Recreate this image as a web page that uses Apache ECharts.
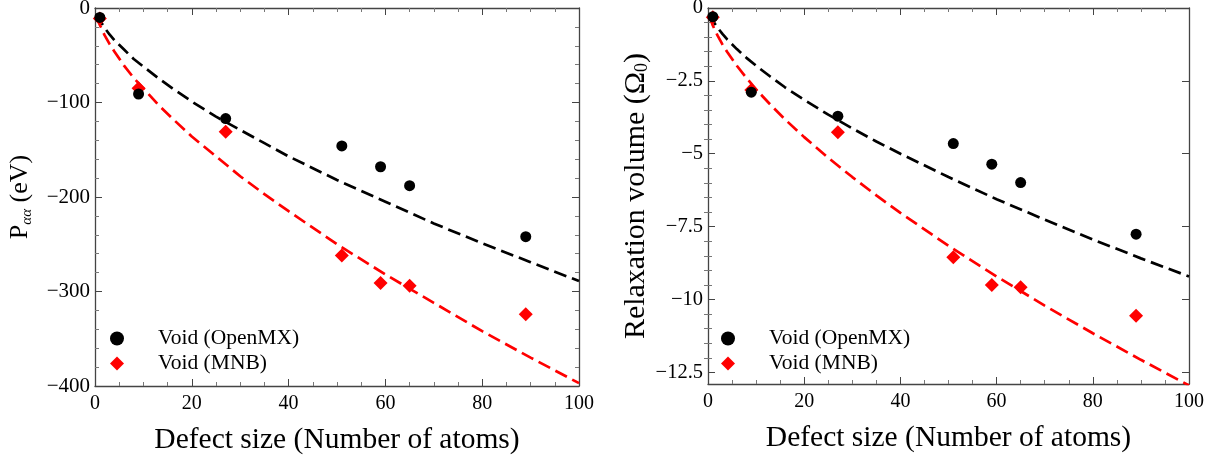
<!DOCTYPE html>
<html>
<head>
<meta charset="utf-8">
<script src="https://cdn.jsdelivr.net/npm/echarts@6/dist/echarts.min.js"></script>
<style>
html,body{margin:0;padding:0;background:#fff;}
#chart{width:1230px;height:464px;}
</style>
</head>
<body>
<div id="chart"></div>
<script>
// ---- data ----
const sizes = [1, 9, 27, 51, 59, 65, 89];
const pOpenMX = [-10, -91, -117, -146, -168, -188, -242];
const pMNB = [-11, -85, -131, -262, -291, -294, -324];
const vOpenMX = [-0.30, -2.89, -3.71, -4.65, -5.36, -5.99, -7.76];
const vMNB = [-0.32, -2.81, -4.26, -8.55, -9.50, -9.58, -10.56];

const fitX = [0.3, 1, 2, 3, 4, 6, 8, 10, 13, 16, 20, 25, 30, 35, 40, 50, 60, 70, 80, 90, 100];
const pFitOpenMX = [-6, -13, -21, -28, -34, -44, -54, -62, -74, -85, -99, -115, -129, -143, -157, -182, -205, -228, -249, -269, -289];
const pFitMNB = [-8, -18, -29, -38, -46, -61, -74, -85, -102, -117, -136, -157, -178, -197, -215, -250, -282, -312, -342, -370, -397];
const vFitOpenMX = [-0.19, -0.43, -0.68, -0.89, -1.08, -1.41, -1.71, -1.98, -2.36, -2.72, -3.15, -3.66, -4.13, -4.58, -5.00, -5.80, -6.56, -7.26, -7.94, -8.59, -9.21];
const vFitMNB = [-0.27, -0.60, -0.95, -1.25, -1.51, -1.98, -2.40, -2.79, -3.32, -3.82, -4.43, -5.14, -5.80, -6.43, -7.03, -8.16, -9.21, -10.21, -11.16, -12.07, -12.95];

const xTicks = [0, 20, 40, 60, 80, 100];
const pTicks = [0, -100, -200, -300, -400];
const vTicks = [0, -2.5, -5, -7.5, -10, -12.5];
const vMinorTicks = [-0.5, -1, -1.5, -2, -3, -3.5, -4, -4.5, -5.5, -6, -6.5, -7, -8, -8.5, -9, -9.5, -10.5, -11, -11.5, -12];

const nameOpen = 'Void (OpenMX)';
const nameMNB = 'Void (MNB)';

// ---- styling ----
const FONT = '"Liberation Serif", "Times New Roman", serif';
const FRAME = '#444';
const minusFmt = v => String(v).replace('-', '\u2212');
const pair = (xs, ys) => xs.map((x, i) => [x, ys[i]]);

function xAxisDef(grid, pos) {
  const bottom = pos === 'bottom';
  return {
    type: 'value', gridIndex: grid, position: pos, min: xTicks[0], max: xTicks[xTicks.length - 1], interval: 20,
    axisLine: {show: true, onZero: false, lineStyle: {color: FRAME, width: 1.3}},
    axisTick: {show: true, inside: true, length: 7, lineStyle: {color: FRAME}},
    minorTick: {show: true, splitNumber: 4, length: 4, lineStyle: {color: '#777'}},
    splitLine: {show: false},
    axisLabel: {show: bottom, fontFamily: FONT, fontSize: 20, color: '#000', margin: 8, formatter: minusFmt},
    name: bottom ? 'Defect size (Number of atoms)' : '',
    nameLocation: 'middle', nameGap: 39,
    nameTextStyle: {fontFamily: FONT, fontSize: 29.5, color: '#000'}
  };
}

const option = {
  animation: false,
  backgroundColor: '#fff',
  grid: [
    {left: 95, top: 8, width: 484, height: 378, outerBoundsMode: 'none', containLabel: false},
    {left: 708, top: 8, width: 481, height: 376, outerBoundsMode: 'none', containLabel: false}
  ],
  legend: [
    {
      data: [nameOpen, nameMNB], orient: 'vertical', left: 110, top: 326, padding: 0,
      itemWidth: 14, itemHeight: 14, itemGap: 0, selectedMode: false,
      formatter: n => '{sp| }' + n,
      textStyle: {fontFamily: FONT, fontSize: 21.5, color: '#000', lineHeight: 25, rich: {sp: {width: 29}}}
    },
    {
      data: [nameOpen, nameMNB], orient: 'vertical', left: 721, top: 326, padding: 0,
      itemWidth: 14, itemHeight: 14, itemGap: 0, selectedMode: false,
      formatter: n => '{sp| }' + n,
      textStyle: {fontFamily: FONT, fontSize: 21.5, color: '#000', lineHeight: 25, rich: {sp: {width: 29}}}
    }
  ],
  xAxis: [xAxisDef(0, 'bottom'), xAxisDef(0, 'top'), xAxisDef(1, 'bottom'), xAxisDef(1, 'top')],
  yAxis: [
    // 0: left grid, left side
    {
      type: 'value', gridIndex: 0, position: 'left', min: pTicks[pTicks.length - 1], max: pTicks[0], interval: 100,
      axisLine: {show: true, onZero: false, lineStyle: {color: FRAME, width: 1.3}},
      axisTick: {show: true, inside: true, length: 7, lineStyle: {color: FRAME}},
      minorTick: {show: true, splitNumber: 5, length: 4, lineStyle: {color: '#777'}},
      splitLine: {show: false},
      axisLabel: {fontFamily: FONT, fontSize: 21, color: '#000', margin: 5, formatter: minusFmt},
      name: '{p|P}{s|\u03b1\u03b1}{p| (eV)}', nameLocation: 'middle', nameGap: 60,
      nameTextStyle: {fontFamily: FONT, fontSize: 26, color: '#000',
        rich: {p: {fontFamily: FONT, fontSize: 26, lineHeight: 30, verticalAlign: 'middle'},
               s: {fontFamily: FONT, fontSize: 15, fontStyle: 'italic', lineHeight: 15, verticalAlign: 'bottom'}}}
    },
    // 1: left grid, right side
    {
      type: 'value', gridIndex: 0, position: 'right', min: pTicks[pTicks.length - 1], max: pTicks[0], interval: 100,
      axisLine: {show: true, onZero: false, lineStyle: {color: FRAME, width: 1.3}},
      axisTick: {show: true, inside: true, length: 7, lineStyle: {color: FRAME}},
      minorTick: {show: true, splitNumber: 5, length: 4, lineStyle: {color: '#777'}},
      splitLine: {show: false}, axisLabel: {show: false}
    },
    // 2: right grid, left side major
    {
      type: 'value', gridIndex: 1, position: 'left', min: -12.9, max: 0,
      axisLine: {show: true, onZero: false, lineStyle: {color: FRAME, width: 1.3}},
      axisTick: {show: true, inside: true, length: 7, customValues: vTicks, lineStyle: {color: FRAME}},
      splitLine: {show: false},
      axisLabel: {fontFamily: FONT, fontSize: 20.5, color: '#000', margin: 5, customValues: vTicks, formatter: minusFmt},
      name: '{p|Relaxation volume (\u03a9}{s|0}{p|)}', nameLocation: 'middle', nameGap: 55,
      nameTextStyle: {fontFamily: FONT, fontSize: 30, color: '#000',
        rich: {p: {fontFamily: FONT, fontSize: 30, lineHeight: 32, verticalAlign: 'middle'},
               s: {fontFamily: FONT, fontSize: 18, lineHeight: 17, verticalAlign: 'bottom'}}}
    },
    // 3: right grid, left side minor
    {
      type: 'value', gridIndex: 1, position: 'left', min: -12.9, max: 0,
      axisLine: {show: false},
      axisTick: {show: true, inside: true, length: 4, customValues: vMinorTicks, lineStyle: {color: '#777'}},
      splitLine: {show: false}, axisLabel: {show: false}
    },
    // 4: right grid, right side major
    {
      type: 'value', gridIndex: 1, position: 'right', min: -12.9, max: 0,
      axisLine: {show: true, onZero: false, lineStyle: {color: FRAME, width: 1.3}},
      axisTick: {show: true, inside: true, length: 7, customValues: vTicks, lineStyle: {color: FRAME}},
      splitLine: {show: false}, axisLabel: {show: false}
    },
    // 5: right grid, right side minor
    {
      type: 'value', gridIndex: 1, position: 'right', min: -12.9, max: 0,
      axisLine: {show: false},
      axisTick: {show: true, inside: true, length: 4, customValues: vMinorTicks, lineStyle: {color: '#777'}},
      splitLine: {show: false}, axisLabel: {show: false}
    }
  ],
  series: [
    // left plot
    {type: 'line', xAxisIndex: 0, yAxisIndex: 0, data: pair(fitX, pFitOpenMX), showSymbol: false, smooth: false,
     lineStyle: {color: '#000', width: 2.7, type: [13, 6]}, z: 2, silent: true},
    {type: 'line', xAxisIndex: 0, yAxisIndex: 0, data: pair(fitX, pFitMNB), showSymbol: false, smooth: false,
     lineStyle: {color: '#f00', width: 2.7, type: [13, 6]}, z: 2, silent: true},
    {type: 'scatter', name: nameMNB, xAxisIndex: 0, yAxisIndex: 0, data: pair(sizes, pMNB), symbol: 'diamond', symbolSize: 14,
     itemStyle: {color: '#f00', opacity: 1}, z: 3},
    {type: 'scatter', name: nameOpen, xAxisIndex: 0, yAxisIndex: 0, data: pair(sizes, pOpenMX), symbol: 'circle', symbolSize: 11,
     itemStyle: {color: '#000', opacity: 1}, z: 4},
    // right plot
    {type: 'line', xAxisIndex: 2, yAxisIndex: 2, data: pair(fitX, vFitOpenMX), showSymbol: false, smooth: false,
     lineStyle: {color: '#000', width: 2.7, type: [13, 6]}, z: 2, silent: true},
    {type: 'line', xAxisIndex: 2, yAxisIndex: 2, data: pair(fitX, vFitMNB), showSymbol: false, smooth: false,
     lineStyle: {color: '#f00', width: 2.7, type: [13, 6]}, z: 2, silent: true},
    {type: 'scatter', name: nameMNB, xAxisIndex: 2, yAxisIndex: 2, data: pair(sizes, vMNB), symbol: 'diamond', symbolSize: 14,
     itemStyle: {color: '#f00', opacity: 1}, z: 3},
    {type: 'scatter', name: nameOpen, xAxisIndex: 2, yAxisIndex: 2, data: pair(sizes, vOpenMX), symbol: 'circle', symbolSize: 11,
     itemStyle: {color: '#000', opacity: 1}, z: 4}
  ]
};

const chart = echarts.init(document.getElementById('chart'), null, {renderer: 'canvas'});
chart.setOption(option);
</script>
</body>
</html>
